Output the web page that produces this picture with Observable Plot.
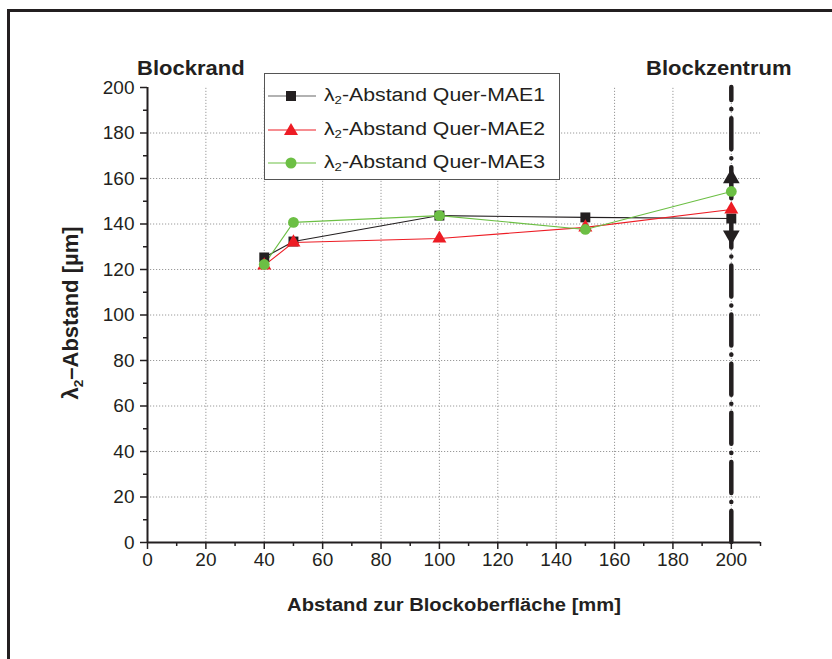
<!DOCTYPE html>
<html><head><meta charset="utf-8">
<script src="https://cdn.jsdelivr.net/npm/d3@7"></script>
<script src="https://cdn.jsdelivr.net/npm/@observablehq/plot@0.6"></script>
<style>
body{margin:0;background:#fff;font-family:"Liberation Sans",Arial,sans-serif;color:#231f20}
#wrap{position:relative;width:832px;height:659px;overflow:hidden}
#frame{position:absolute;left:7px;top:9px;width:900px;height:800px;border-left:3px solid #231f20;border-top:3px solid #231f20}
.lbl{position:absolute;white-space:nowrap;font-weight:bold}
#legend{position:absolute;left:264px;top:73px;width:296px;height:107px;border:1px solid #555;background:#fff;box-sizing:border-box}
.row{position:absolute;left:0;height:30px;display:flex;align-items:center}
.row svg{flex:none}
.row span{font-size:18px;margin-left:6px;display:inline-block;transform:scaleX(1.18);transform-origin:left center}
sub{font-size:0.62em;vertical-align:-0.3em}
</style></head><body>
<div id="wrap"><div id="frame"></div></div>
<script>
// ---- data ----
const distances = [40, 50, 100, 150, 200];
const mae1 = [125.3, 132.3, 143.7, 142.9, 142.4];
const mae2 = [121.8, 131.9, 133.6, 138.5, 146.4];
const mae3 = [122.2, 140.7, 143.7, 137.6, 154.3];
const seriesNames = ["MAE1", "MAE2", "MAE3"];
const seriesColors = ["#231f20", "#ed1c24", "#6cbf44"];
const seriesSymbols = ["square", "triangle", "circle"];
const xTicks = [0, 20, 40, 60, 80, 100, 120, 140, 160, 180, 200];
const yTicks = [0, 20, 40, 60, 80, 100, 120, 140, 160, 180, 200];
const xMinor = [10, 30, 50, 70, 90, 110, 130, 150, 170, 190, 210];
const yMinor = [10, 30, 50, 70, 90, 110, 130, 150, 170, 190];
const centerX = 200;
const centerArrowsUp = [160];
const centerArrowsDown = [135];
const xTitle = "Abstand zur Blockoberfläche [mm]";
const leftNote = "Blockrand", rightNote = "Blockzentrum";

const seriesVals = [mae1, mae2, mae3];
const rows = seriesVals.map((vals, i) => distances.map((d, j) => ({x: d, y: vals[j], s: seriesNames[i]})));
const radii = [5.6, 5.2, 5.4];

const lineMarks = rows.map((r, i) => Plot.line(r, {x: "x", y: "y", stroke: seriesColors[i], strokeWidth: 1.1}));
const dotMarks = rows.map((r, i) => Plot.dot(r, {x: "x", y: "y", symbol: seriesSymbols[i], r: radii[i], fill: seriesColors[i]}));

const plot = Plot.plot({
  width: 832, height: 659,
  marginLeft: 147, marginRight: 72, marginTop: 87, marginBottom: 117,
  x: {domain: [0, 210]},
  y: {domain: [0, 200]},
  style: {fontFamily: "'Liberation Sans', Arial, sans-serif", fontSize: "19px", color: "#231f20", background: "transparent", overflow: "visible"},
  marks: [
    Plot.ruleX(xTicks.filter(d => d > 0), {y1: 0, y2: 200, stroke: "#9a9a9a", strokeDasharray: "1.2,1.8", strokeWidth: 1}),
    Plot.ruleY(yTicks.filter(d => d > 0 && d < 200), {x1: 0, x2: 210, stroke: "#9a9a9a", strokeDasharray: "1.2,1.8", strokeWidth: 1}),
    Plot.ruleX([centerX], {y1: 0, y2: 200, stroke: "#231f20", strokeWidth: 4.5, strokeDasharray: "31,9,0.1,9", strokeLinecap: "round"}),
    Plot.dot(centerArrowsUp, {x: () => centerX, y: d => d, symbol: "triangle", r: 6.2, fill: "#231f20"}),
    Plot.dot(centerArrowsDown, {x: () => centerX, y: d => d, symbol: "triangle", r: 6.2, fill: "#231f20", rotate: 180}),
    ...lineMarks,
    ...dotMarks,
    Plot.ruleY([0], {x1: 0, x2: 210, stroke: "#231f20", strokeWidth: 2}),
    Plot.ruleX([0], {y1: 0, y2: 200, stroke: "#231f20", strokeWidth: 2}),
    Plot.axisX(xTicks, {tickSize: 7, tickPadding: 3, strokeWidth: 1.5, label: null, fontSize: 19}),
    Plot.axisX(xMinor, {tickSize: 4, strokeWidth: 1.5, tickFormat: () => "", label: null}),
    Plot.axisY(yTicks, {tickSize: 7, tickPadding: 6, strokeWidth: 1.5, label: null, fontSize: 19}),
    Plot.axisY(yMinor, {tickSize: 4, strokeWidth: 1.5, tickFormat: () => "", label: null})
  ]
});
d3.select(plot).selectAll("text").style("font-size", "19px").style("fill", "#231f20");
d3.select(plot).selectAll("g[aria-label$='tick label']").attr("font-size", 19).style("font-size", "19px");
plot.style.position = "absolute";
plot.style.left = "0px";
plot.style.top = "0px";
const wrap = document.getElementById("wrap");
wrap.appendChild(plot);

function addLabel(html, css) {
  const d = document.createElement("div");
  d.className = "lbl";
  d.innerHTML = html;
  Object.assign(d.style, css);
  wrap.appendChild(d);
  return d;
}
addLabel(`<span style="display:inline-block;transform:scaleX(1.1);transform-origin:left">${leftNote}</span>`, {left: "137px", top: "57px", fontSize: "20px"});
addLabel(`<span style="display:inline-block;transform:scaleX(1.1);transform-origin:left">${rightNote}</span>`, {left: "646px", top: "57px", fontSize: "20px"});
addLabel(`<span style="display:inline-block;transform:scaleX(1.12)">${xTitle}</span>`, {left: "454px", top: "605px", fontSize: "18px", transform: "translate(-50%,-50%)"});
addLabel(`λ<sub>2</sub>–Abstand [µm]`, {left: "72px", top: "313px", fontSize: "22px", transform: "translate(-50%,-50%) rotate(-90deg)"});

// legend
const lg = document.createElement("div");
lg.id = "legend";
wrap.appendChild(lg);
const symbolSvg = [
  c => `<rect x="18" y="10" width="10" height="10" fill="${c}"/>`,
  c => `<path d="M23,8 L30,20 L16,20 Z" fill="${c}"/>`,
  c => `<circle cx="23" cy="15" r="5.5" fill="${c}"/>`
];
seriesNames.forEach((n, i) => {
  const r = document.createElement("div");
  r.className = "row";
  r.style.top = (7 + i * 33.5) + "px";
  const lc = i === 0 ? "#666" : seriesColors[i];
  r.innerHTML = `<svg width="50" height="30" style="margin-left:3px"><line x1="0" x2="48" y1="15" y2="15" stroke="${lc}" stroke-width="1.2"/>${symbolSvg[i](seriesColors[i])}</svg><span>λ<sub>2</sub>-Abstand Quer-${n}</span>`;
  lg.appendChild(r);
});
</script>
</body></html>
